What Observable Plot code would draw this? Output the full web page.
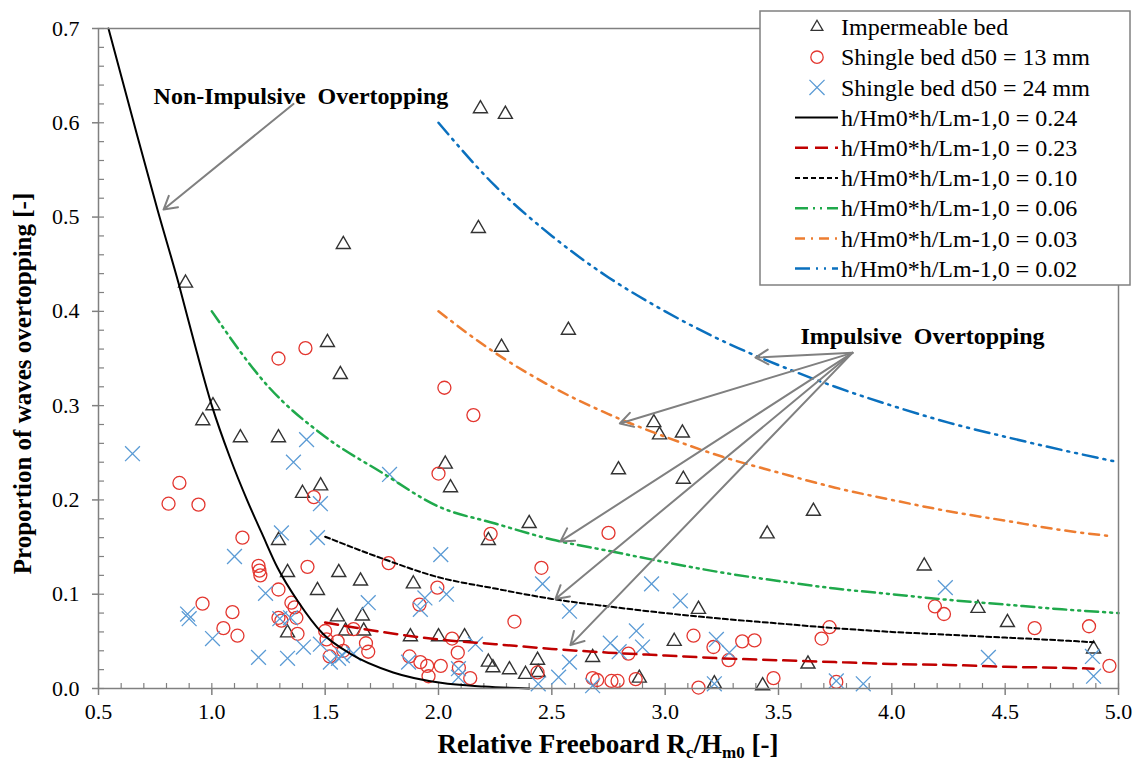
<!DOCTYPE html>
<html><head><meta charset="utf-8">
<script src="https://cdn.jsdelivr.net/npm/d3@7"></script>
<script src="https://cdn.jsdelivr.net/npm/@observablehq/plot@0.6"></script>
<style>body{margin:0;background:#fff}#chart{width:1138px;height:764px}#chart svg text{font-family:"Liberation Serif","Times New Roman",serif;font-variant:normal}</style>
</head><body><div id="chart"></div>
<script>
// ---- scatter data ----
const impX = [0.884,0.96,1.005,1.126,1.294,1.40,1.48,1.294,1.334,1.56,1.466,1.554,1.334,1.59,1.58,2.176,1.51,1.567,2.185,2.295,2.278,2.573,2.03,2.053,2.40,2.22,1.656,1.889,1.664,1.67,1.876,2.0,2.115,2.22,2.24,2.313,2.384,2.437,2.44,2.68,2.95,2.975,3.076,2.794,3.08,3.654,3.45,3.147,3.04,3.63,2.886,3.217,3.43,4.143,4.38,4.51,4.89];
const impY = [0.43,0.284,0.30,0.266,0.266,0.207,0.215,0.157,0.123,0.123,0.104,0.076,0.059,0.061,0.471,0.488,0.367,0.333,0.615,0.609,0.362,0.380,0.238,0.213,0.175,0.157,0.114,0.111,0.077,0.061,0.055,0.055,0.055,0.028,0.022,0.020,0.015,0.030,0.017,0.033,0.282,0.269,0.271,0.232,0.222,0.188,0.164,0.084,0.050,0.026,0.011,0.005,0.003,0.130,0.085,0.070,0.042];

const s13X = [0.857,0.809,0.941,1.135,1.422,1.206,1.21,1.214,1.294,1.351,1.365,1.373,1.294,1.307,1.378,0.959,1.091,1.051,1.113,1.50,1.506,1.52,1.58,1.555,1.294,1.413,2.026,2.154,2.0,1.78,2.454,1.995,1.916,2.335,1.625,1.68,1.69,1.45,2.06,2.085,1.872,1.92,1.95,1.956,2.01,2.09,2.14,2.437,2.68,2.70,2.23,2.75,3.125,2.838,3.213,3.28,3.34,3.394,3.725,3.69,2.763,2.79,2.87,3.147,3.478,3.755,4.19,4.23,4.63,4.87,4.96];
const s13Y = [0.218,0.196,0.195,0.160,0.129,0.130,0.125,0.120,0.105,0.091,0.086,0.075,0.075,0.072,0.058,0.090,0.081,0.064,0.056,0.061,0.052,0.034,0.040,0.050,0.350,0.361,0.319,0.290,0.228,0.133,0.128,0.107,0.089,0.071,0.063,0.048,0.039,0.203,0.053,0.038,0.034,0.028,0.024,0.013,0.024,0.022,0.011,0.017,0.011,0.009,0.164,0.165,0.056,0.037,0.044,0.030,0.050,0.051,0.065,0.053,0.008,0.008,0.010,0.001,0.011,0.007,0.087,0.079,0.064,0.066,0.024];

const s24X = [0.65,1.418,1.36,1.479,1.307,1.466,1.10,1.237,0.893,0.90,1.003,1.30,1.347,1.206,1.334,1.404,1.479,1.523,1.559,1.784,2.01,1.69,2.035,1.94,1.92,2.459,2.578,2.163,1.576,1.625,2.088,2.088,2.44,2.53,2.578,2.68,1.868,2.94,3.067,2.873,2.758,2.797,2.90,3.226,3.283,3.217,3.755,4.236,4.426,4.885,4.89,3.874];
const s24Y = [0.249,0.264,0.240,0.196,0.165,0.160,0.140,0.101,0.079,0.074,0.053,0.074,0.075,0.033,0.032,0.044,0.047,0.028,0.032,0.227,0.142,0.091,0.100,0.096,0.084,0.111,0.082,0.047,0.035,0.037,0.021,0.012,0.005,0.012,0.028,0.003,0.028,0.111,0.093,0.061,0.048,0.039,0.044,0.052,0.038,0.005,0.008,0.107,0.033,0.034,0.013,0.005];

// ---- fitted curves ----
const c024X = [0.544,0.65,0.76,0.853,0.93,1.0,1.08,1.157,1.22,1.29,1.378,1.49,1.61,1.8,2.01,2.2,2.4];
const c024Y = [0.70,0.605,0.508,0.43,0.36,0.30,0.245,0.199,0.165,0.128,0.093,0.058,0.037,0.017,0.006,0.002,0.0];
const c023X = [1.5,1.75,2.0,2.25,2.5,2.75,3.0,3.25,3.5,3.75,4.0,4.25,4.5,4.75,4.89];
const c023Y = [0.070,0.060,0.052,0.047,0.042,0.038,0.035,0.032,0.030,0.028,0.026,0.025,0.023,0.022,0.021];
const c010X = [1.5,1.75,2.0,2.25,2.5,2.75,3.0,3.25,3.5,3.75,4.0,4.25,4.5,4.75,4.89];
const c010Y = [0.161,0.138,0.118,0.106,0.095,0.087,0.080,0.074,0.069,0.064,0.060,0.057,0.054,0.051,0.049];
const c006X = [1.0,1.25,1.5,1.75,2.0,2.25,2.5,2.75,3.0,3.25,3.5,3.75,4.0,4.25,4.5,4.75,5.0];
const c006Y = [0.40,0.32,0.267,0.229,0.193,0.175,0.158,0.146,0.134,0.123,0.114,0.106,0.100,0.094,0.089,0.084,0.080];
const c003X = [2.0,2.25,2.5,2.75,3.0,3.25,3.5,3.75,4.0,4.25,4.5,4.75,4.95];
const c003Y = [0.40,0.356,0.32,0.291,0.267,0.246,0.229,0.213,0.200,0.188,0.178,0.168,0.162];
const c002X = [2.0,2.25,2.5,2.75,3.0,3.25,3.5,3.75,4.0,4.25,4.5,4.75,5.0];
const c002Y = [0.60,0.533,0.48,0.436,0.40,0.369,0.343,0.32,0.30,0.282,0.267,0.253,0.24];

// ---- annotations ----
const arrowX1 = [1.36,3.826,3.826,3.826,3.826,3.826];
const arrowY1 = [0.62,0.356,0.356,0.356,0.356,0.356];
const arrowX2 = [0.787,3.398,2.80,2.538,2.516,2.582];
const arrowY2 = [0.508,0.351,0.281,0.156,0.095,0.046];
const noteText = ["Non-Impulsive\u00a0\u00a0Overtopping","Impulsive\u00a0\u00a0Overtopping"];
const noteX = [0.743,3.597];
const noteY = [0.628,0.374];

// ---- ticks & labels ----
const xTicks = [0.5,1.0,1.5,2.0,2.5,3.0,3.5,4.0,4.5,5.0];
const yTicks = [0.0,0.1,0.2,0.3,0.4,0.5,0.6,0.7];
const yTitle = "Proportion of waves overtopping [-]";
const legendLabels = ["Impermeable bed","Shingle bed d50 = 13 mm","Shingle bed d50 = 24 mm",
  "h/Hm0*h/Lm-1,0 = 0.24","h/Hm0*h/Lm-1,0 = 0.23","h/Hm0*h/Lm-1,0 = 0.10",
  "h/Hm0*h/Lm-1,0 = 0.06","h/Hm0*h/Lm-1,0 = 0.03","h/Hm0*h/Lm-1,0 = 0.02"];

const serif = "Liberation Serif, Times New Roman, serif";
const gray = "#808080";
const cRed = "#e3362f", cBlue = "#5b9bd5", cTri = "#333333";
const lineStyles = [
  {X:c024X,Y:c024Y,stroke:"#000000",dash:null,w:2},
  {X:c023X,Y:c023Y,stroke:"#c00000",dash:"13,7",w:2.5},
  {X:c010X,Y:c010Y,stroke:"#000000",dash:"5,3",w:2},
  {X:c006X,Y:c006Y,stroke:"#1fa94b",dash:"13,5,2,5,2,5",w:2.5},
  {X:c003X,Y:c003Y,stroke:"#ed7d31",dash:"10,6,2,6",w:2.5},
  {X:c002X,Y:c002Y,stroke:"#0a70be",dash:"15,6,2,6,2,6",w:2.5}
];

const W = 1138, H = 764, mL = 98, mR = 20, mT = 28, mB = 76;
const pW = W - mL - mR, pH = H - mT - mB;
const pts = (X, Y) => X.map((x, i) => ({x, y: Y[i]}));
const xMinor = d3.range(5, 51).map(d => d / 10);
const yMinor = d3.range(0, 36).map(d => d / 50);
const arrows = arrowX1.map((x1, i) => ({x1, y1: arrowY1[i], x2: arrowX2[i], y2: arrowY2[i]}));
const notes = noteText.map((t, i) => ({t, x: noteX[i], y: noteY[i]}));

const marks = [
  Plot.tickX(xMinor, {x: d => d, insetTop: pH - 5, stroke: gray, strokeWidth: 1.2}),
  Plot.tickY(yMinor, {y: d => d, insetRight: pW - 6, stroke: gray, strokeWidth: 1.2}),
  Plot.axisX({ticks: xTicks, tickSize: 7, tickPadding: 8, tickFormat: d => d.toFixed(1), stroke: gray, strokeWidth: 1.5, fill: "black", label: null, fontSize: 22, fontFamily: serif}),
  Plot.axisY({ticks: yTicks, tickSize: 6, tickPadding: 13, tickFormat: d => d.toFixed(1), stroke: gray, strokeWidth: 1.5, fill: "black", label: null, fontSize: 22, fontFamily: serif}),
  Plot.dot(pts(impX, impY), {x: "x", y: "y", symbol: "triangle", r: 5.2, stroke: cTri, strokeWidth: 1.4, fill: "none"}),
  Plot.dot(pts(s13X, s13Y), {x: "x", y: "y", symbol: "circle", r: 6.5, stroke: cRed, strokeWidth: 1.3, fill: "none"}),
  Plot.dot(pts(s24X, s24Y), {x: "x", y: "y", symbol: "times", r: 6.8, stroke: cBlue, strokeWidth: 1.3, fill: "none"}),
  ...lineStyles.map(s => Plot.line(pts(s.X, s.Y), {x: "x", y: "y", curve: "monotone-x", stroke: s.stroke, strokeWidth: s.w, strokeDasharray: s.dash})),
  Plot.arrow(arrows, {x1: "x1", y1: "y1", x2: "x2", y2: "y2", stroke: gray, strokeWidth: 2, headLength: 11}),
  Plot.text(notes, {x: "x", y: "y", text: "t", textAnchor: "start", fontWeight: "bold", fontSize: 24, fill: "black", fontFamily: serif}),
  Plot.text([yTitle], {frameAnchor: "left", textAnchor: "middle", dx: -76, dy: 25, rotate: -90, fontWeight: "bold", fontSize: 25, fill: "black", fontFamily: serif}),
  Plot.frame({stroke: gray, strokeWidth: 1.5})
];

const chart = Plot.plot({
  width: W, height: H, marginLeft: mL, marginRight: mR, marginTop: mT, marginBottom: mB,
  x: {domain: [0.5, 5.0]}, y: {domain: [0, 0.7]},
  style: {fontFamily: serif, fontSize: "22px", color: "black", background: "white", overflow: "visible"},
  marks
});
document.getElementById("chart").appendChild(chart);

const svg = d3.select(chart);
svg.selectAll("text").attr("font-family", serif);
// x-axis title with subscripts
const xt = svg.append("text").attr("x", 608).attr("y", 753).attr("text-anchor", "middle")
  .attr("font-family", serif).attr("font-weight", "bold").attr("font-size", 27).attr("fill", "black");
xt.append("tspan").text("Relative Freeboard R");
xt.append("tspan").attr("font-size", 17).attr("dy", 5).text("c");
xt.append("tspan").attr("font-size", 27).attr("dy", -5).text("/H");
xt.append("tspan").attr("font-size", 17).attr("dy", 5).text("m0");
xt.append("tspan").attr("font-size", 27).attr("dy", -5).text(" [-]");

// legend
const lg = svg.append("g").attr("font-family", serif).attr("text-anchor", "start");
lg.append("rect").attr("x", 760).attr("y", 11).attr("width", 370).attr("height", 274)
  .attr("fill", "white").attr("stroke", gray).attr("stroke-width", 1.5);
const symDefs = [
  {type: d3.symbolTriangle, size: 60, stroke: cTri},
  {type: d3.symbolCircle, size: 120, stroke: cRed},
  {type: d3.symbolTimes, size: 150, stroke: cBlue}
];
legendLabels.forEach((lab, i) => {
  const cy = 27 + i * 30.2;
  if (i < 3) {
    const s = symDefs[i];
    lg.append("path").attr("d", d3.symbol(s.type, s.size)()).attr("transform", `translate(817,${cy})`)
      .attr("fill", "none").attr("stroke", s.stroke).attr("stroke-width", 1.3);
  } else {
    const s = lineStyles[i - 3];
    lg.append("line").attr("x1", 795).attr("x2", 838).attr("y1", cy).attr("y2", cy)
      .attr("stroke", s.stroke).attr("stroke-width", s.w).attr("stroke-dasharray", s.dash);
  }
  lg.append("text").attr("x", 841).attr("y", cy).attr("dy", "0.34em").attr("text-anchor", "start")
    .attr("font-size", 24).attr("fill", "black").text(lab);
});
</script>
</body></html>
